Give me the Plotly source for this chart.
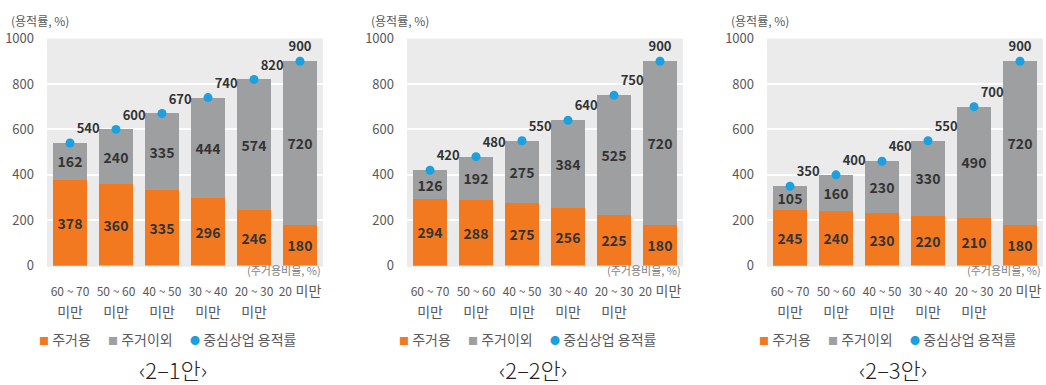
import plotly.graph_objects as go

# Category labels (housing share ranges)
categories = ["60 ~ 70", "50 ~ 60", "40 ~ 50", "30 ~ 40", "20 ~ 30", "20 미만"]
range_labels = ["60 ~ 70", "50 ~ 60", "40 ~ 50", "30 ~ 40", "20 ~ 30", "20"]
suffix = "미만"

# Option 2-1
res_21 = [378, 360, 335, 296, 246, 180]
non_21 = [162, 240, 335, 444, 574, 720]
far_21 = [540, 600, 670, 740, 820, 900]

# Option 2-2
res_22 = [294, 288, 275, 256, 225, 180]
non_22 = [126, 192, 275, 384, 525, 720]
far_22 = [420, 480, 550, 640, 750, 900]

# Option 2-3
res_23 = [245, 240, 230, 220, 210, 180]
non_23 = [105, 160, 230, 330, 490, 720]
far_23 = [350, 400, 460, 550, 700, 900]

captions = ["‹2–1안›", "‹2–2안›", "‹2–3안›"]

y_ticks = [0, 200, 400, 600, 800, 1000]

ORANGE = "#F37921"
GRAY = "#9D9FA0"
BLUE = "#1BA1DF"
BG = "#EBEBEB"
TXT = "#333333"
AX = "#595959"
FONT = "Noto Sans CJK KR"

W, H = 1046, 385
# plot-area pixel extents per panel (left, right)
panel_px = [(47, 323), (407, 683), (767, 1043)]
y_top_px, y_bot_px = 30, 269


def fx(px):
    return px / W


def fy(py):
    return 1 - py / H


def tick_text(rng, last):
    num = f"<span style='font-size:12px'>{rng}</span>"
    word = f"<span style='font-size:14px'>{suffix}</span>"
    if last:
        return f"{num} {word}"
    return f"{num}<br>{word}"


tick_labels = [tick_text(r, k == len(range_labels) - 1) for k, r in enumerate(range_labels)]

fig = go.Figure()

panels = [
    (res_21, non_21, far_21),
    (res_22, non_22, far_22),
    (res_23, non_23, far_23),
]

for i, (res, non, far) in enumerate(panels):
    xa = "x" if i == 0 else f"x{i + 1}"
    ya = "y" if i == 0 else f"y{i + 1}"
    fig.add_trace(go.Bar(
        x=categories, y=res, name="주거용", xaxis=xa, yaxis=ya,
        marker=dict(color=ORANGE, line=dict(width=0)),
        text=[str(v) for v in res], textposition="inside",
        insidetextanchor="middle", textangle=0,
        textfont=dict(family=FONT, size=14, color=TXT, weight="bold"),
        showlegend=False, hoverinfo="skip",
    ))
    fig.add_trace(go.Bar(
        x=categories, y=non, name="주거이외", xaxis=xa, yaxis=ya,
        marker=dict(color=GRAY, line=dict(width=0)),
        text=[str(v) for v in non], textposition="inside",
        insidetextanchor="middle", textangle=0,
        textfont=dict(family=FONT, size=14, color=TXT, weight="bold"),
        showlegend=False, hoverinfo="skip",
    ))
    fig.add_trace(go.Scatter(
        x=categories, y=far, name="중심상업 용적률", xaxis=xa, yaxis=ya,
        mode="markers+text",
        marker=dict(color=BLUE, size=9),
        text=[str(v) for v in far],
        textposition=["top right"] * 5 + ["top center"],
        textfont=dict(family=FONT, size=13, color=TXT, weight="bold"),
        showlegend=False, hoverinfo="skip", cliponaxis=False,
    ))

    l, r = panel_px[i]
    ax_common = dict(
        domain=[fx(l), fx(r)], anchor=ya,
        tickmode="array", tickvals=categories, ticktext=tick_labels,
        tickfont=dict(family=FONT, size=16, color=AX),
        showgrid=False, zeroline=False, showline=False, ticks="",
        ticklabelstandoff=13,
    )
    ay_common = dict(
        domain=[fy(y_bot_px), fy(y_top_px)], anchor=xa, range=[0, 1000],
        tickmode="array", tickvals=y_ticks,
        tickfont=dict(family=FONT, size=13, color=AX),
        showgrid=True, gridcolor="#FFFFFF", gridwidth=1.5,
        zeroline=False, showline=False, ticks="", ticklabelstandoff=12,
    )
    fig.update_layout(**{
        ("xaxis" if i == 0 else f"xaxis{i + 1}"): ax_common,
        ("yaxis" if i == 0 else f"yaxis{i + 1}"): ay_common,
    })

    # y-axis unit title
    fig.add_annotation(
        x=fx(l - 38), y=fy(11), xref="paper", yref="paper",
        text="(용적률, %)", showarrow=False, xanchor="left", yanchor="middle",
        font=dict(family=FONT, size=12, color=AX),
    )
    # x-axis unit title
    fig.add_annotation(
        x=fx(r), y=fy(274), xref="paper", yref="paper",
        text="(주거용비율, %)", showarrow=False, xanchor="right", yanchor="middle",
        font=dict(family=FONT, size=11, color="#7F7F7F"),
    )
    # legend row
    leg_items = [
        (l - 10, ORANGE, "■", "주거용"),
        (l + 59, GRAY, "■", "주거이외"),
        (l + 141, BLUE, "●", "중심상업 용적률"),
    ]
    for px0, col, sym, label in leg_items:
        fig.add_annotation(
            x=fx(px0), y=fy(346), xref="paper", yref="paper",
            text=f"<span style='color:{col};font-size:10px'>{sym}</span> {label}",
            showarrow=False, xanchor="left", yanchor="middle",
            font=dict(family=FONT, size=14, color=AX),
        )
    # panel caption
    fig.add_annotation(
        x=fx((l + r) / 2 - 12), y=fy(378), xref="paper", yref="paper",
        text=captions[i], showarrow=False, xanchor="center", yanchor="middle",
        borderpad=0,
        font=dict(family=FONT, size=22, color="#222222", weight=300),
    )
    # plot-area background
    fig.add_shape(
        type="rect", xref="paper", yref="paper",
        x0=fx(l), x1=fx(r), y0=fy(y_bot_px + 1), y1=fy(y_top_px),
        fillcolor=BG, line=dict(width=0), layer="below",
    )

fig.update_layout(
    width=W, height=H, barmode="stack", bargap=0.28,
    margin=dict(l=0, r=0, t=0, b=0),
    paper_bgcolor="#FFFFFF", plot_bgcolor="rgba(0,0,0,0)",
    font=dict(family=FONT),
    uniformtext=dict(minsize=13, mode="show"),
)

fig.write_html("out.html")
